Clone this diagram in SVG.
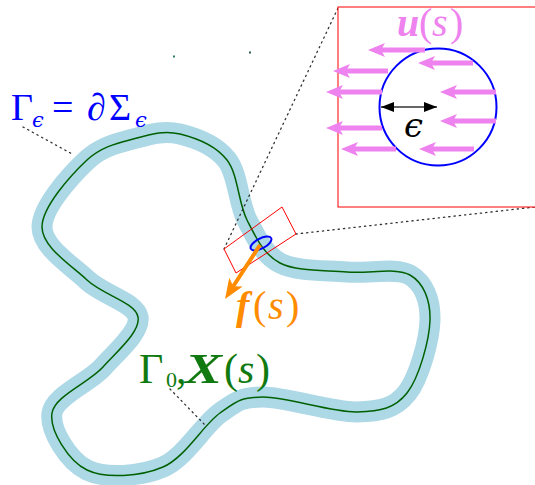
<svg xmlns="http://www.w3.org/2000/svg" width="535" height="485" viewBox="0 0 535 485">
<defs>
<style>
.dot{fill:none;stroke:#333;stroke-width:1.3;stroke-dasharray:1.3 4;stroke-linecap:round;}
.vio{stroke:#EE82EE;stroke-width:5;fill:none;marker-end:url(#vh);}
.band{fill:none;stroke:#ADD8E6;stroke-width:21;stroke-linejoin:round;}
.cl{fill:none;stroke:#006000;stroke-width:1.5;}
</style>
<path id="c" d="M180,134 C195,137.67 215.83,145.67 227,160 C238.17,174.33 238.17,202.83 247,220 C255.83,237.17 263.33,254.33 280,263 C296.67,271.67 325.33,270 347,272 C368.67,274 396.17,267 410,275 C423.83,283 430.5,300.33 430,320 C429.5,339.67 419.17,377.67 407,393 C394.83,408.33 381,411.33 357,412 C333,412.67 285.83,396.83 263,397 C240.17,397.17 236.67,401.33 220,413 C203.33,424.67 185.17,457.5 163,467 C140.83,476.5 105.5,479 87,470 C68.5,461 49.33,430.17 52,413 C54.67,395.83 88.67,383 103,367 C117.33,351 140.67,331.5 138,317 C135.33,302.5 103,295 87,280 C71,265 42,247 42,227 C42,207 71.17,174.83 87,160 C102.83,145.17 121.5,142.33 137,138 C152.5,133.67 165,130.33 180,134 Z"/>
<marker id="vh" markerUnits="userSpaceOnUse" markerWidth="20" markerHeight="16" refX="7" refY="7" orient="auto" viewBox="0 0 20 16">
<path d="M0,0 L17,7 L0,14 L4,7 Z" fill="#EE82EE"/>
</marker>
<marker id="bh" markerUnits="userSpaceOnUse" markerWidth="16" markerHeight="12" refX="13" refY="5" orient="auto-start-reverse" viewBox="0 0 16 12">
<path d="M0,0 L13,5 L0,10 Z" fill="#000"/>
</marker>
<marker id="oh" markerUnits="userSpaceOnUse" markerWidth="24" markerHeight="20" refX="10" refY="8" orient="auto" viewBox="0 0 24 20">
<path d="M0,0 L20,8 L0,16 L5,8 Z" fill="#FF8C00"/>
</marker>
</defs>

<g id="curve">
<use href="#c" class="band"/>
<use href="#c" class="cl"/>
</g>

<g id="dots">
<rect x="173" y="55.5" width="2" height="2" fill="#2e8060"/>
<rect x="249" y="51.5" width="2" height="2" fill="#2e6050"/>
</g>

<g id="connectors">
<line class="dot" x1="224" y1="249" x2="338" y2="8"/>
<line class="dot" x1="296" y1="234" x2="535" y2="207"/>
<line class="dot" x1="23" y1="127" x2="74" y2="155"/>
<line class="dot" x1="170" y1="389" x2="206" y2="426"/>
</g>

<g id="zoom-box">
<polygon points="224,249 282,207 296,234 236,273" fill="none" stroke="#ff0000" stroke-width="1"/>
<ellipse cx="261" cy="243.5" rx="11.5" ry="5" transform="rotate(-28 261 243.5)" fill="none" stroke="#0000ff" stroke-width="2"/>
</g>

<g id="force">
<line x1="260" y1="245" x2="230.5" y2="290.5" stroke="#FF8C00" stroke-width="4" marker-end="url(#oh)"/>
<text font-family="Liberation Serif, serif" y="319" font-size="40" fill="#FF8C00"><tspan font-style="italic" font-weight="bold" x="236">f</tspan><tspan x="253">(</tspan><tspan font-style="italic" x="268">s</tspan><tspan x="286">)</tspan></text>
</g>

<g id="inset">
<rect x="338" y="7" width="210" height="200" fill="#fff" stroke="#ff0000" stroke-width="1"/>
<circle cx="438" cy="107" r="58.5" fill="none" stroke="#0000ff" stroke-width="2"/>
<line class="vio" x1="425" y1="50" x2="378" y2="50"/>
<line class="vio" x1="473" y1="63" x2="428" y2="63"/>
<line class="vio" x1="388" y1="71" x2="343" y2="71"/>
<line class="vio" x1="382" y1="92" x2="336" y2="92"/>
<line class="vio" x1="496" y1="92" x2="450" y2="92"/>
<line class="vio" x1="496" y1="121" x2="450" y2="121"/>
<line class="vio" x1="382" y1="128" x2="336" y2="128"/>
<line class="vio" x1="396" y1="149" x2="351" y2="149"/>
<line class="vio" x1="474" y1="149" x2="429" y2="149"/>
<line x1="381" y1="107" x2="437" y2="107" stroke="#333" stroke-width="1.5" marker-start="url(#bh)" marker-end="url(#bh)"/>
<text font-family="DejaVu Serif, serif" font-style="italic" x="404" y="137" font-size="34" fill="#000">ϵ</text>
<text font-family="Liberation Serif, serif" y="36" font-size="40" fill="#EE82EE"><tspan font-style="italic" font-weight="bold" x="397">u</tspan><tspan x="419">(</tspan><tspan font-style="italic" x="432">s</tspan><tspan x="450">)</tspan></text>
</g>

<g id="label-gamma-eps">
<text font-family="Liberation Serif, DejaVu Serif, serif" y="120" font-size="38" fill="#0000ff"><tspan x="11">Γ</tspan><tspan font-family="DejaVu Serif, serif" font-style="italic" x="32" y="127" font-size="21">ϵ</tspan><tspan x="52" y="120">=</tspan><tspan font-style="italic" x="87">∂</tspan><tspan x="109">Σ</tspan><tspan font-family="DejaVu Serif, serif" font-style="italic" x="135" y="127" font-size="21">ϵ</tspan></text>
</g>

<g id="label-gamma0">
<text font-family="Liberation Serif, serif" y="383" font-size="42" fill="#107a10"><tspan x="139">Γ</tspan><tspan x="166" y="387" font-size="22">0</tspan><tspan x="176" y="383">,</tspan></text>
<text font-family="Liberation Serif, serif" font-style="italic" font-weight="bold" x="185" y="383" font-size="42" fill="#107a10" textLength="37" lengthAdjust="spacingAndGlyphs">X</text>
<text font-family="Liberation Serif, serif" y="383" font-size="42" fill="#107a10"><tspan x="224">(</tspan><tspan font-style="italic" x="238">s</tspan><tspan x="256">)</tspan></text>
</g>
</svg>
